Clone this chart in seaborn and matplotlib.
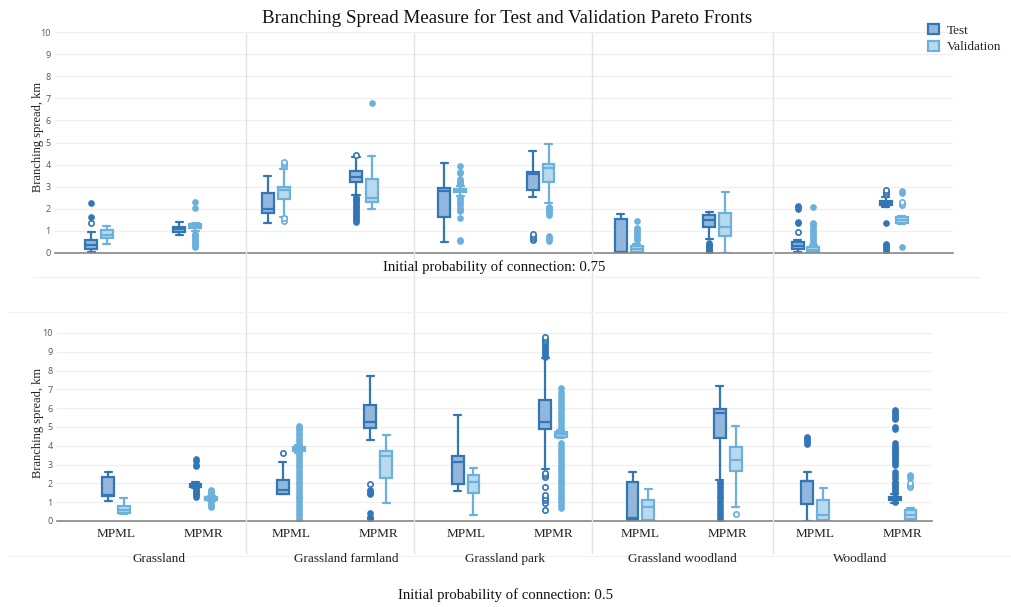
import seaborn as sns
import matplotlib.pyplot as plt
from matplotlib.lines import Line2D
from matplotlib.patches import Patch
from matplotlib.transforms import blended_transform_factory

# ---- data ----
groups = ["Grassland", "Grassland farmland", "Grassland park", "Grassland woodland", "Woodland"]
methods = ["MPML", "MPMR"]
series_names = ["Test", "Validation"]
y_ticks = [0, 1, 2, 3, 4, 5, 6, 7, 8, 9, 10]
panel_titles = ["Initial probability of connection: 0.75", "Initial probability of connection: 0.5"]

# p = 0.75, Test
top_test_q1 = [0.20, 0.93, 1.80, 3.23, 1.65, 2.84, 0.00, 1.16, 0.20, 2.15]
top_test_med = [0.38, 1.08, 1.98, 3.46, 2.81, 3.59, 0.03, 1.50, 0.33, 2.24]
top_test_q3 = [0.57, 1.17, 2.71, 3.70, 2.93, 3.65, 1.55, 1.70, 0.48, 2.36]
top_test_lo = [0.05, 0.83, 1.35, 2.62, 0.50, 2.53, 0.00, 0.65, 0.05, 2.10]
top_test_hi = [0.95, 1.40, 3.49, 4.36, 4.08, 4.62, 1.76, 1.85, 0.57, 2.55]
top_test_out = [[1.63, 2.27], [], [],
                [1.42, 1.50, 1.58, 1.66, 1.74, 1.82, 1.90, 1.98, 2.06, 2.14, 2.22, 2.30, 2.38, 2.46, 2.54],
                [], [], [], [0.02, 0.08, 0.14, 0.20, 0.26, 0.32, 0.38, 0.44],
                [1.35, 1.42, 2.00, 2.06, 2.12], [0.02, 0.10, 0.18, 0.26, 0.34, 0.42, 1.38]]
top_test_sus = [[1.35], [], [], [4.42], [], [0.60, 0.68, 0.76, 0.85], [], [], [0.95], [2.65, 2.75, 2.83]]

# p = 0.75, Validation
top_val_q1 = [0.66, 1.11, 2.44, 2.32, 2.74, 3.23, 0.05, 0.75, 0.05, 1.37]
top_val_med = [0.83, 1.23, 2.86, 2.51, 2.81, 3.83, 0.18, 1.16, 0.15, 1.50]
top_val_q3 = [1.05, 1.32, 2.99, 3.37, 2.89, 4.02, 0.30, 1.80, 0.26, 1.64]
top_val_lo = [0.42, 1.00, 1.65, 2.00, 2.58, 2.25, 0.00, 0.02, 0.00, 1.33]
top_val_hi = [1.23, 1.38, 3.79, 4.41, 3.03, 4.92, 0.40, 2.75, 0.38, 1.66]
top_val_out = [[], [0.25, 0.32, 0.40, 0.48, 0.56, 0.64, 0.72, 0.80, 0.88, 2.05, 2.33], [], [6.77],
               [0.55, 0.60, 1.60, 1.88, 1.95, 2.05, 2.15, 2.25, 2.35, 2.45, 2.52,
                3.10, 3.15, 3.20, 3.27, 3.33, 3.60, 3.68, 3.95],
               [0.55, 0.62, 0.70, 0.78, 1.72, 1.80, 1.88, 1.95, 2.02, 2.10],
               [0.60, 0.68, 0.76, 0.84, 0.92, 1.00, 1.08, 1.13, 1.43], [],
               [0.45, 0.55, 0.65, 0.75, 0.82, 0.90, 1.00, 1.10, 1.20, 1.30, 1.38, 2.10],
               [0.25, 2.72, 2.80]]
top_val_sus = [[], [], [1.47, 1.57, 3.94, 4.03, 4.12], [], [], [], [], [], [], [2.15, 2.22, 2.30]]

# p = 0.5, Test
bot_test_q1 = [1.33, 1.83, 1.46, 4.97, 1.95, 4.92, 0.05, 4.39, 0.89, 1.14]
bot_test_med = [1.37, 1.92, 1.65, 5.24, 3.16, 5.24, 0.16, 5.74, 2.13, 1.21]
bot_test_q3 = [2.33, 1.97, 2.18, 6.18, 3.48, 6.41, 2.10, 5.95, 2.13, 1.30]
bot_test_lo = [1.05, 1.78, 1.46, 4.32, 1.62, 2.75, 0.02, 2.20, 0.02, 0.95]
bot_test_hi = [2.61, 2.07, 3.16, 7.69, 5.65, 8.67, 2.58, 7.19, 2.63, 1.45]
bot_test_out = [[], [1.30, 1.38, 1.46, 1.54, 1.62, 1.70, 2.90, 2.98, 3.20, 3.28], [],
                [0.08, 0.15, 0.22, 0.40, 1.42, 1.50, 1.58, 1.65], [],
                [8.70, 8.80, 8.90, 9.00, 9.10, 9.20, 9.30, 9.40], [],
                [0.00, 0.15, 0.30, 0.45, 0.60, 0.75, 0.90, 1.05, 1.20, 1.35, 1.50, 1.65, 1.80, 1.95, 2.10],
                [4.10, 4.20, 4.30, 4.40, 4.45],
                [1.00, 1.50, 1.60, 1.70, 1.80, 1.90, 2.00, 2.10, 2.30, 2.45, 2.60, 3.00, 3.10, 3.20,
                 3.30, 3.40, 3.50, 3.60, 3.70, 3.80, 3.90, 4.00, 4.15, 4.90, 5.00, 5.40, 5.50, 5.60,
                 5.70, 5.80, 5.90]]
bot_test_sus = [[], [], [3.62], [1.95], [],
                [0.58, 0.96, 1.10, 1.25, 1.38, 1.81, 2.34, 2.45, 2.55, 9.50, 9.60, 9.70, 9.80],
                [], [], [], []]

# p = 0.5, Validation
bot_val_q1 = [0.41, 1.12, 3.75, 2.27, 1.51, 4.49, 0.05, 2.65, 0.05, 0.09]
bot_val_med = [0.59, 1.17, 3.85, 3.46, 2.10, 4.62, 0.76, 3.22, 0.32, 0.32]
bot_val_q3 = [0.82, 1.26, 3.93, 3.75, 2.43, 4.74, 1.10, 3.93, 1.12, 0.59]
bot_val_lo = [0.36, 1.05, 3.62, 0.98, 0.30, 4.40, 0.00, 0.73, 0.00, 0.02]
bot_val_hi = [1.24, 1.32, 4.05, 4.58, 2.84, 4.85, 1.72, 5.04, 1.74, 0.71]
bot_val_out = [[], [0.75, 0.82, 0.90, 0.97, 1.38, 1.45, 1.52, 1.60, 1.65],
               [0.02, 0.15, 0.30, 0.45, 0.60, 0.75, 0.90, 1.05, 1.20, 1.35, 1.50, 1.65, 1.80,
                1.95, 2.10, 2.25, 2.40, 2.55, 2.70, 2.85, 3.00, 3.15, 3.30, 3.45, 3.55,
                4.12, 4.25, 4.40, 4.55, 4.70, 4.85, 4.95, 5.05],
               [], [],
               [0.70, 0.85, 1.00, 1.15, 1.30, 1.45, 1.60, 1.75, 1.90, 2.05, 2.20, 2.35, 2.50,
                2.65, 2.80, 2.95, 3.10, 3.25, 3.40, 3.55, 3.70, 3.85, 4.00, 4.15,
                4.92, 5.05, 5.20, 5.35, 5.50, 5.65, 5.80, 5.95, 6.10, 6.25, 6.40, 6.55, 6.70,
                6.85, 7.05],
               [], [], [], [2.30, 2.38, 2.45]]
bot_val_sus = [[], [], [], [], [], [], [], [0.35], [], [1.80, 1.90, 2.00]]

# ---- style ----
test_edge, test_fill = "#3376b6", "#93b7dc"
val_edge, val_fill = "#6cb0dc", "#b8daef"
grid_col = "#efefef"
sep_col = "#e4e4e4"

sns.set_theme(style="white")
plt.rcParams['font.family'] = ['Liberation Serif', 'DejaVu Serif']

categories = [m for g in groups for m in methods]
slots = list(range(len(categories)))


def make_stats(q1, med, q3, lo, hi, out):
    return [dict(q1=a, med=b, q3=c, whislo=d, whishi=e, fliers=f)
            for a, b, c, d, e, f in zip(q1, med, q3, lo, hi, out)]


def draw_panel(ax, series, xlim):
    for stats, sus, shift, edge, fill in series:
        pos = [s + shift for s in slots]
        ax.bxp(stats, positions=pos, widths=0.135, capwidths=0.08, patch_artist=True,
               manage_ticks=False,
               boxprops=dict(facecolor=fill, edgecolor=edge, linewidth=1.6),
               medianprops=dict(color=edge, linewidth=1.6),
               whiskerprops=dict(color=edge, linewidth=1.6),
               capprops=dict(color=edge, linewidth=1.6),
               flierprops=dict(marker='o', markerfacecolor=edge, markeredgecolor=edge,
                               markersize=3.8, linestyle='none'))
        for p, vals in zip(pos, sus):
            ax.plot([p] * len(vals), vals, 'o', mfc='white', mec=edge, ms=3.8, mew=1.2, ls='none')
    ax.set_xlim(*xlim)
    ax.set_ylim(0, 10)
    ax.set_yticks(y_ticks)
    ax.set_yticklabels([str(t) for t in y_ticks], fontsize=6.5, color="#555555", family="Open Sans")
    ax.tick_params(axis='both', length=0, pad=3)
    ax.yaxis.grid(True, color=grid_col, linewidth=0.9)
    ax.set_axisbelow(True)
    for side in ["top", "left", "right"]:
        ax.spines[side].set_visible(False)
    ax.spines["bottom"].set_color("#888888")
    ax.spines["bottom"].set_linewidth(1.2)
    ax.set_ylabel("")


fig = plt.figure(figsize=(10.12, 6.07), dpi=100)
W, H = 1012, 607

ax_top = fig.add_axes([55 / W, 1 - 253 / H, 898 / W, 221 / H])
ax_bot = fig.add_axes([57 / W, 1 - 521 / H, 875 / W, 188 / H])

draw_panel(ax_top, [
    (make_stats(top_test_q1, top_test_med, top_test_q3, top_test_lo, top_test_hi, top_test_out),
     top_test_sus, -0.09, test_edge, test_fill),
    (make_stats(top_val_q1, top_val_med, top_val_q3, top_val_lo, top_val_hi, top_val_out),
     top_val_sus, 0.09, val_edge, val_fill)], (-0.498, 9.67))
draw_panel(ax_bot, [
    (make_stats(bot_test_q1, bot_test_med, bot_test_q3, bot_test_lo, bot_test_hi, bot_test_out),
     bot_test_sus, -0.09, test_edge, test_fill),
    (make_stats(bot_val_q1, bot_val_med, bot_val_q3, bot_val_lo, bot_val_hi, bot_val_out),
     bot_val_sus, 0.09, val_edge, val_fill)], (-0.675, 9.336))

ax_top.set_xticks(slots)
ax_top.set_xticklabels([])
ax_bot.set_xticks(slots)
ax_bot.set_xticklabels(categories, fontsize=9.5, color="#222222")
ax_bot.tick_params(axis='x', pad=5)

# group names under the method labels
group_label_x = [0.49, 2.64, 4.45, 6.48, 8.51]
trans = blended_transform_factory(ax_bot.transData, fig.transFigure)
for gx, g in zip(group_label_x, groups):
    fig.text(gx, 1 - 559 / H, g, transform=trans, ha="center", va="center", fontsize=9.5, color="#222222")

# group separators and faint panel borders
for px in [246, 414, 592, 773]:
    fig.add_artist(Line2D([px / W, px / W], [1 - 33 / H, 1 - 553 / H], color=sep_col, lw=1))
for py, x0, x1 in [(277, 33, 980), (312, 8, 1005), (556, 8, 1012)]:
    fig.add_artist(Line2D([x0 / W, x1 / W], [1 - py / H, 1 - py / H], color="#f3f3f3", lw=1))

# text
fig.text(507 / W, 1 - 18 / H, "Branching Spread Measure for Test and Validation Pareto Fronts",
         ha="center", va="center", fontsize=13.7, color="#111111")
fig.text(494 / W, 1 - 267 / H, panel_titles[0], ha="center", va="center", fontsize=10.6, color="#111111")
fig.text(506 / W, 1 - 595 / H, panel_titles[1], ha="center", va="center", fontsize=10.6, color="#111111")
fig.text(38 / W, 1 - 137 / H, "Branching spread, km", rotation=90, ha="center", va="center",
         fontsize=9, color="#222222")
fig.text(38 / W, 1 - 423 / H, "Branching spread, km", rotation=90, ha="center", va="center",
         fontsize=9, color="#222222")

handles = [Patch(facecolor=test_fill, edgecolor=test_edge, linewidth=1.6, label=series_names[0]),
           Patch(facecolor=val_fill, edgecolor=val_edge, linewidth=1.6, label=series_names[1])]
fig.legend(handles=handles, loc="upper left", bbox_to_anchor=(928 / W, 1 - 24 / H), frameon=False,
           fontsize=9.5, handlelength=0.8, handleheight=0.8, handletextpad=0.6, labelspacing=0.3,
           borderpad=0, borderaxespad=0)

fig.savefig("out.png", dpi=100)
